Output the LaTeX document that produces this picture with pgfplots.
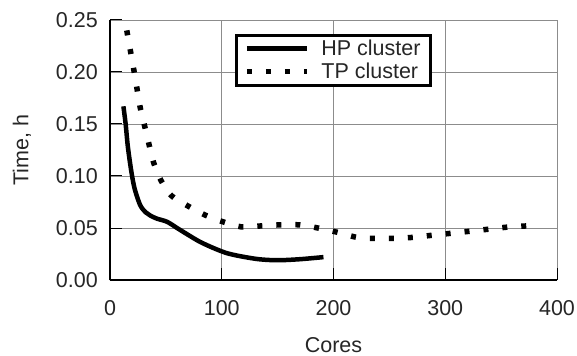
\documentclass[border=0pt]{standalone}
\usepackage{pgfplots}
\pgfplotsset{compat=1.18}
\usepackage{fontspec}
\setmainfont{Liberation Sans}
\definecolor{gridgray}{gray}{0.55}
\begin{document}
\begin{tikzpicture}
\useasboundingbox (-110bp,-76bp) rectangle (467bp,280bp);
\begin{axis}[
  at={(0,0)}, anchor=south west,
  scale only axis, width=447bp, height=260bp,
  xmin=0, xmax=400, ymin=0, ymax=0.25,
  xtick={0,100,200,300,400},
  ytick={0,0.05,0.10,0.15,0.20,0.25},
  axis x line*=bottom, axis y line*=left,
  axis line style={black, line width=1.2bp, -},
  grid=major,
  major grid style={gridgray, line width=0.9bp},
  tick align=inside,
  major tick length=12bp,
  tick style={black, line width=1bp},
  yticklabel style={/pgf/number format/fixed, /pgf/number format/fixed zerofill, /pgf/number format/precision=2, anchor=east, inner sep=0pt, xshift=-12bp},
  /pgf/number format/assume math mode=true,
  tick label style={font=\fontsize{21.5bp}{25bp}\selectfont, text=black!85},
  xticklabel style={anchor=base, inner sep=0pt, yshift=-35bp},
  xlabel={Cores},
  ylabel={Time, h},
  label style={font=\fontsize{21.5bp}{25bp}\selectfont, text=black!85},
  xlabel style={at={(axis description cs:0.5,0)}, anchor=base, inner sep=0pt, yshift=-72bp},
  ylabel style={at={(axis description cs:0,0.5)}, anchor=center, xshift=0bp, yshift=88bp},
  legend style={at={(axis cs:112,0.2365)}, anchor=north west,
    draw=black, line width=2.5bp, fill=white,
    font=\fontsize{21.5bp}{25bp}\selectfont, text=black!85,
    inner xsep=8bp, inner ysep=3bp, row sep=2bp, column sep=10bp},
  legend cell align=left,
  legend image code/.code={\draw[#1, line width=5bp] (0bp,0bp) -- (60bp,0bp);},
  clip=false,
]
\addplot[black, line width=4.5bp, smooth, tension=0.5] coordinates {
(12,0.167)(14,0.150)(16,0.128)(19,0.105)(22,0.088)(27,0.072)(32,0.065)(36,0.062)(42,0.059)(51,0.056)(60,0.050)(69,0.044)(80,0.037)(92,0.031)(104,0.026)(116,0.023)(133,0.020)(150,0.019)(170,0.020)(191,0.022)
};
\addlegendentry{HP cluster}
\addplot[black, line width=5.5bp, line cap=butt, dash pattern=on 5bp off 14bp, smooth, tension=0.5] coordinates {
(15,0.240)(21,0.204)(24,0.185)(27,0.166)(31,0.148)(35,0.130)(39,0.113)(46,0.095)(55,0.081)(70,0.071)(85,0.0625)(101,0.056)(118,0.051)(135,0.052)(152,0.053)(170,0.053)(186,0.050)(203,0.046)(221,0.041)(237,0.040)(254,0.040)(271,0.041)(288,0.043)(306,0.045)(323,0.047)(340,0.049)(357,0.051)(373,0.052)
};
\addlegendentry{TP cluster}
\end{axis}
\end{tikzpicture}
\end{document}
